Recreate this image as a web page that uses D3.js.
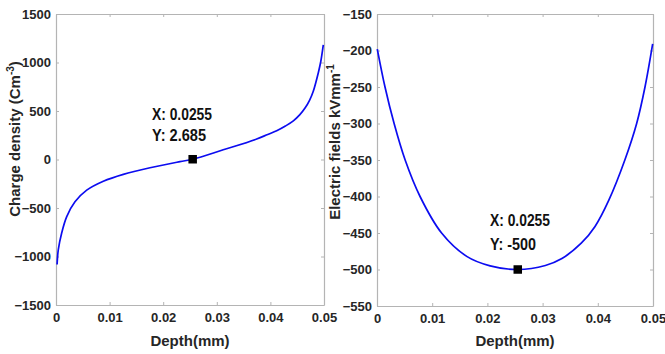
<!DOCTYPE html>
<html>
<head>
<meta charset="utf-8">
<script src="https://cdn.jsdelivr.net/npm/d3@7"></script>
<style>
  html, body { margin: 0; padding: 0; background: #fff; }
  svg { display: block; }
  .tick text { font-family: "Liberation Sans", Arial, sans-serif; font-weight: bold; font-size: 13px; fill: #262626; }
  .title { font-family: "Liberation Sans", Arial, sans-serif; font-weight: bold; font-size: 15px; fill: #262626; }
  .tip { font-family: "Liberation Sans", Arial, sans-serif; font-weight: bold; font-size: 16.5px; fill: #111; }
</style>
</head>
<body>
<svg id="chart" width="665" height="354"></svg>
<script>
// Shared x axis (depth in mm)
const depthTicks = [0, 0.01, 0.02, 0.03, 0.04, 0.05];
const depthTickLabels = ["0", "0.01", "0.02", "0.03", "0.04", "0.05"];

// Left panel: charge density
const chargeTicks = [-1500, -1000, -500, 0, 500, 1000, 1500];
const chargeDepth = [0.0002, 0.00043, 0.00106, 0.002, 0.00354, 0.00573, 0.00883, 0.01256, 0.01754, 0.02313, 0.0255, 0.0312, 0.03744, 0.0395, 0.04117, 0.0428, 0.04428, 0.0455, 0.04646, 0.0473, 0.048, 0.04894, 0.0494, 0.04987];
const chargeValue = [-1082, -929, -758, -589, -436, -316, -224, -153, -85, -22, 2.685, 100, 211, 258, 296, 345, 398, 462, 530, 610, 704, 895, 1010, 1181];
const chargeTip = { x: 0.0255, y: 2.685 };

// Right panel: electric field
const fieldTicks = [-550, -500, -450, -400, -350, -300, -250, -200, -150];
const fieldDepth = [0.00005, 0.00145, 0.0031, 0.0051, 0.0078, 0.0117, 0.01625, 0.0205, 0.0255, 0.0305, 0.0335, 0.037, 0.0395, 0.042, 0.0449, 0.04704, 0.04855, 0.04994];
const fieldValue = [-198, -250, -300, -350, -400, -450, -482, -495, -500, -494.5, -485, -464, -441, -405, -350, -300, -250, -191];
const fieldTip = { x: 0.0255, y: -500 };

const svg = d3.select("#chart");
const axisGray = "#b4b4b4";
const lineBlue = "#0c0cf0";

function panel(opts) {
  const { left, right, top, bottom, yDomain, yTicks, xs, ys, tip, yTitle, ySup, titleX } = opts;
  const x = d3.scaleLinear().domain([0, 0.05]).range([left, right]);
  const y = d3.scaleLinear().domain(yDomain).range([bottom, top]);
  const g = svg.append("g");
  const tickLen = 3;

  // Axes with inward ticks on all four sides
  const fmtX = (d, i) => depthTickLabels[i];
  const bottomAx = g.append("g").attr("transform", `translate(0,${bottom})`)
    .call(d3.axisBottom(x).tickValues(depthTicks).tickFormat(fmtX).tickSizeInner(-tickLen).tickSizeOuter(0).tickPadding(8));
  const topAx = g.append("g").attr("transform", `translate(0,${top})`)
    .call(d3.axisTop(x).tickValues(depthTicks).tickFormat("").tickSizeInner(-tickLen).tickSizeOuter(0));
  const leftAx = g.append("g").attr("transform", `translate(${left},0)`)
    .call(d3.axisLeft(y).tickValues(yTicks).tickFormat(d3.format("d")).tickSizeInner(-tickLen).tickSizeOuter(0).tickPadding(5));
  const rightAx = g.append("g").attr("transform", `translate(${right},0)`)
    .call(d3.axisRight(y).tickValues(yTicks).tickFormat("").tickSizeInner(-tickLen).tickSizeOuter(0));
  [bottomAx, topAx, leftAx, rightAx].forEach(a => {
    a.selectAll("path.domain").attr("stroke", axisGray).attr("stroke-width", 1.2);
    a.selectAll(".tick line").attr("stroke", axisGray);
  });
  bottomAx.selectAll(".tick text").attr("dy", "0.71em");

  // Curve
  const pts = xs.map((d, i) => [d, ys[i]]);
  g.append("path")
    .datum(pts)
    .attr("fill", "none")
    .attr("stroke", lineBlue)
    .attr("stroke-width", 1.7)
    .attr("d", d3.line().x(d => x(d[0])).y(d => y(d[1])).curve(d3.curveCatmullRom.alpha(0.5)));

  // Data tip marker
  const s = 8.5;
  g.append("rect")
    .attr("x", x(tip.x) - s / 2).attr("y", y(tip.y) - s / 2)
    .attr("width", s).attr("height", s).attr("fill", "#000");

  const tipText = g.append("text").attr("class", "tip");
  tipText.append("tspan").attr("x", opts.tipX).attr("y", opts.tipY1)
    .attr("textLength", 60).attr("lengthAdjust", "spacingAndGlyphs").text("X: " + tip.x);
  tipText.append("tspan").attr("x", opts.tipX).attr("y", opts.tipY2)
    .attr("textLength", opts.tipW2).attr("lengthAdjust", "spacingAndGlyphs").text("Y: " + tip.y);

  // Axis titles
  g.append("text").attr("class", "title")
    .attr("x", (left + right) / 2).attr("y", 346)
    .attr("text-anchor", "middle").text("Depth(mm)");

  const yt = g.append("text").attr("class", "title")
    .attr("transform", `translate(${titleX},${opts.titleY}) rotate(-90)`)
    .attr("text-anchor", "middle");
  yt.append("tspan").text(yTitle);
  yt.append("tspan").attr("font-size", "10px").attr("dy", "-6").text(ySup);
  if (opts.yTitleEnd) yt.append("tspan").attr("dy", "6").text(opts.yTitleEnd);
}

panel({
  left: 56, right: 324, top: 14, bottom: 305,
  yDomain: [-1500, 1500], yTicks: chargeTicks,
  xs: chargeDepth, ys: chargeValue, tip: chargeTip,
  tipX: 152, tipY1: 120, tipY2: 141, tipW2: 54,
  yTitle: "Charge density (Cm", ySup: "-3", yTitleEnd: ")",
  titleX: 20, titleY: 139
});

panel({
  left: 377, right: 653, top: 14, bottom: 306,
  yDomain: [-550, -150], yTicks: fieldTicks,
  xs: fieldDepth, ys: fieldValue, tip: fieldTip,
  tipX: 490, tipY1: 226, tipY2: 250, tipW2: 46,
  yTitle: "Electric fields kVmm", ySup: "-1",
  titleX: 340, titleY: 142
});
</script>
</body>
</html>
